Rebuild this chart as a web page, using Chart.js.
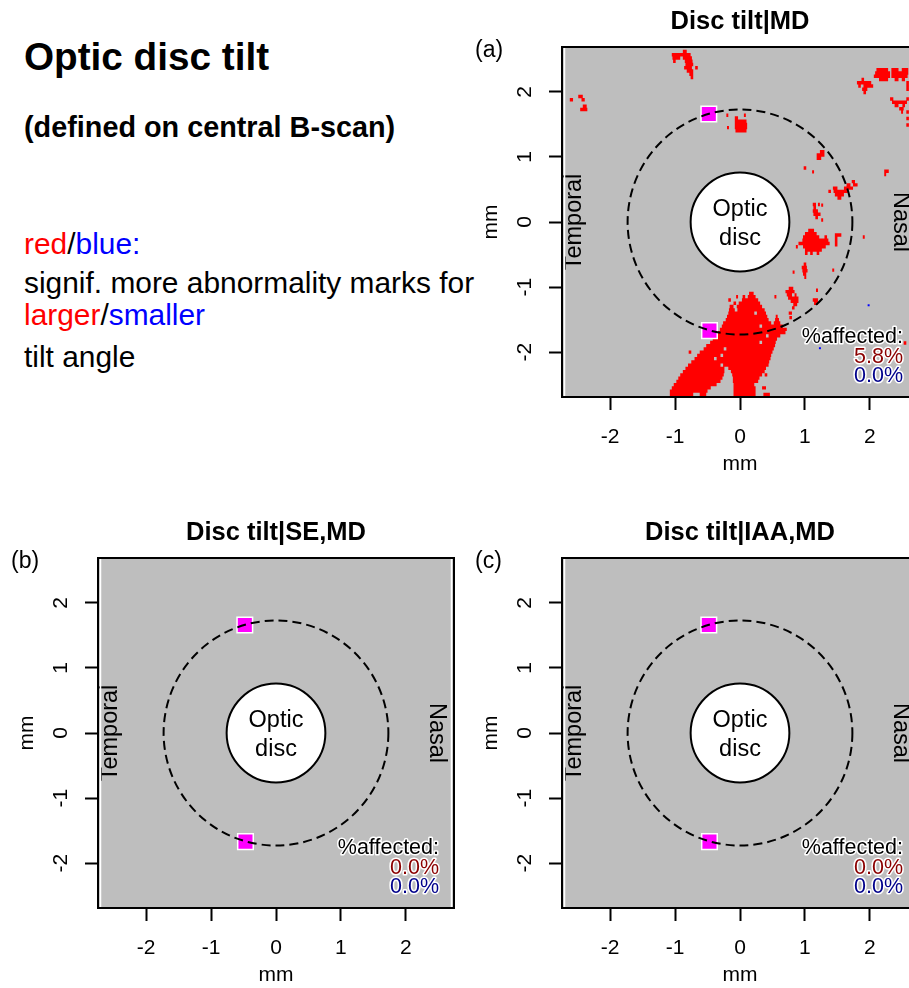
<!DOCTYPE html>
<html><head><meta charset="utf-8">
<script src="https://cdn.jsdelivr.net/npm/chart.js@4.4.1/dist/chart.umd.min.js"></script>
<style>
html,body{margin:0;padding:0;background:#fff;}
body{width:909px;height:988px;overflow:hidden;position:relative;font-family:'Liberation Sans',Arial,Helvetica,sans-serif;}
.t{position:absolute;left:24px;white-space:nowrap;line-height:1;color:#000;}
canvas{position:absolute;}
</style></head><body>
<div class="t" style="top:37.5px;font-size:38.7px;font-weight:bold;">Optic disc tilt</div>
<div class="t" style="top:112.5px;font-size:28.8px;font-weight:bold;">(defined on central B-scan)</div>
<div class="t" style="top:228.5px;font-size:29.9px;"><span style="color:#FF0000">red</span>/<span style="color:#0000FF">blue:</span></div>
<div class="t" style="top:267.5px;font-size:29.9px;">signif. more abnormality marks for</div>
<div class="t" style="top:299.5px;font-size:29.9px;"><span style="color:#FF0000">larger</span>/<span style="color:#0000FF">smaller</span></div>
<div class="t" style="top:341.5px;font-size:29.9px;">tilt angle</div>
<canvas id="ca" width="470" height="477" style="left:464px;top:0px"></canvas>
<canvas id="cb" width="470" height="478" style="left:0px;top:510px"></canvas>
<canvas id="cc" width="470" height="478" style="left:464px;top:510px"></canvas>
<script>
// ---- data ----
const xTicks = [-2, -1, 0, 1, 2];
const yTicks = [-2, -1, 0, 1, 2];
const xRange = [-2.74, 2.74];
const yRange = [-2.69, 2.69];
const panelLetters = ['(a)', '(b)', '(c)'];
const panelTitles = ['Disc tilt|MD', 'Disc tilt|SE,MD', 'Disc tilt|IAA,MD'];
const pctRed = ['5.8%', '0.0%', '0.0%'];
const pctBlue = ['0.0%', '0.0%', '0.0%'];
const squareX = [-0.48, -0.47];
const squareY = [1.66, -1.67];
const ringRadius = 1.73;
const discRadius = 0.76;
// red cells of panel (a): [row y (mm), x start, x end]
const redRowsA = [
 [2.62,-0.88,-0.82],[2.57,-1.05,-0.76],[2.52,-1.04,-0.92],[2.52,-0.88,-0.74],
 [2.47,-1.03,-0.99],[2.47,-0.85,-0.73],[2.42,-0.84,-0.72],[2.37,-0.86,-0.74],[2.37,-0.69,-0.65],
 [2.32,-0.82,-0.72],[2.27,-0.78,-0.72],[2.22,-0.76,-0.72],
 [1.93,-2.49,-2.42],[1.88,-2.62,-2.57],[1.88,-2.44,-2.39],[1.78,-2.42,-2.36],[1.73,-2.46,-2.35],
 [2.34,2.10,2.28],[2.34,2.33,2.44],[2.34,2.49,2.59],[2.29,2.08,2.31],[2.29,2.33,2.59],
 [2.24,2.06,2.31],[2.24,2.33,2.58],[2.19,1.87,1.91],[2.19,2.14,2.28],[2.19,2.38,2.44],[2.19,2.49,2.54],
 [2.14,1.80,2.02],[2.14,2.56,2.60],[2.09,1.82,1.86],[2.09,1.90,2.05],[2.09,2.56,2.60],
 [2.04,1.88,1.96],[2.04,2.56,2.60],[1.99,1.90,1.94],[1.89,2.31,2.36],[1.89,2.56,2.60],
 [1.84,2.34,2.57],[1.79,2.38,2.44],[1.79,2.50,2.54],[1.74,2.45,2.52],[1.69,2.48,2.51],
 [1.69,2.56,2.60],[1.59,2.56,2.60],[1.49,2.56,2.60],
 [1.64,-0.21,-0.18],[1.64,0.06,0.09],[1.60,-0.08,-0.03],[1.55,-0.08,0.10],[1.50,-0.08,0.11],
 [1.45,-0.20,-0.17],[1.45,-0.08,0.11],[1.40,-0.07,0.10],
 [1.08,1.23,1.30],[1.03,1.18,1.30],[0.98,1.18,1.25],
 [0.83,0.98,1.02],[0.77,1.11,1.14],[0.78,2.22,2.29],[0.73,2.22,2.25],
 [0.62,1.72,1.77],[0.57,1.64,1.70],[0.57,1.74,1.81],[0.52,1.43,1.50],[0.52,1.60,1.74],
 [0.47,1.36,1.40],[0.47,1.44,1.66],[0.42,1.46,1.60],[0.37,1.50,1.56],
 [0.27,1.12,1.17],[0.27,1.20,1.23],[0.26,1.25,1.28],[0.22,1.13,1.17],[0.17,1.12,1.20],
 [0.12,1.13,1.24],[0.07,1.16,1.20],[0.03,1.25,1.28],
 [-0.13,1.05,1.14],[-0.18,1.00,1.18],[-0.23,0.97,1.22],[-0.23,1.30,1.34],[-0.23,1.89,1.92],
 [-0.28,0.96,1.36],[-0.33,0.90,1.38],[-0.38,0.97,1.32],[-0.38,0.86,0.89],[-0.43,1.00,1.26],
 [-0.48,1.00,1.04],[-0.48,1.08,1.12],[-0.48,1.18,1.22],
 [-0.20,1.46,1.56],[-0.25,1.46,1.50],[-0.30,1.46,1.50],[-0.35,1.46,1.50],
 [-0.65,0.98,1.02],[-0.70,0.95,1.03],[-0.74,1.42,1.45],[-0.75,0.96,1.04],[-0.77,0.81,0.84],
 [-0.80,0.97,1.02],[-0.85,0.99,1.02],
 [-1.02,0.75,0.82],[-1.05,1.17,1.20],[-1.07,0.70,0.84],[-1.12,0.72,0.80],[-1.12,0.84,0.87],
 [-1.17,0.74,0.90],[-1.20,1.12,1.20],[-1.22,0.78,0.90],[-1.25,1.14,1.20],[-1.27,0.82,0.88],
 [-1.32,0.80,0.84],[-1.40,0.75,0.80],[-1.47,0.76,0.80],[-1.86,2.52,2.56],
 [-1.10,0.14,0.21],
 [-1.15,-0.06,-0.03],[-1.15,0.04,0.08],[-1.15,0.12,0.24],[-1.15,0.53,0.56],
 [-1.20,-0.18,-0.14],[-1.20,0.03,0.28],
 [-1.25,-0.10,-0.06],[-1.25,-0.02,0.31],
 [-1.30,-0.16,-0.10],[-1.30,-0.05,0.34],
 [-1.35,-0.17,-0.08],[-1.35,-0.04,0.38],
 [-1.40,-0.18,0.22],[-1.40,0.26,0.40],
 [-1.45,-0.20,0.42],[-1.45,0.55,0.58],
 [-1.50,-0.22,0.44],[-1.50,0.54,0.60],
 [-1.55,-0.26,0.48],[-1.55,0.52,0.62],
 [-1.60,-0.28,0.30],[-1.60,0.34,0.66],
 [-1.65,-0.31,0.72],
 [-1.70,-0.34,0.70],
 [-1.75,-0.38,0.40],[-1.75,0.44,0.62],
 [-1.80,-0.42,0.57],
 [-1.85,-0.46,0.30],[-1.85,0.34,0.55],
 [-1.90,-0.52,0.54],
 [-1.95,-0.56,-0.25],[-1.95,-0.21,0.52],
 [-2.00,-0.79,-0.75],[-2.00,-0.62,0.50],
 [-2.05,-0.66,-0.30],[-2.05,-0.26,0.48],
 [-2.10,-0.70,-0.40],[-2.10,-0.36,0.47],
 [-2.15,-0.75,0.45],
 [-2.20,-0.80,-0.30],[-2.20,-0.26,0.44],
 [-2.25,-0.84,-0.24],[-2.25,-0.18,0.40],
 [-2.30,-0.88,-0.24],[-2.30,-0.14,0.38],
 [-2.35,-0.92,-0.25],[-2.35,-0.12,0.34],[-2.35,0.38,0.42],
 [-2.40,-0.95,-0.27],[-2.40,-0.11,0.30],
 [-2.45,-0.98,-0.30],[-2.45,-0.11,0.28],
 [-2.50,-1.02,-0.36],[-2.50,-0.10,0.22],
 [-2.55,-1.05,-0.45],[-2.55,-0.10,0.24],[-2.55,0.34,0.40],
 [-2.60,-1.08,-0.50],[-2.60,-0.10,0.24],
 [-2.65,-1.08,-0.72],[-2.65,-0.62,-0.52],[-2.65,-0.10,0.24],[-2.65,0.36,0.46]
];
const redRowsB = [];
const redRowsC = [];
// blue cells: [x, y]
const blueSpotsA = [[1.98,-1.28],[1.23,-1.94]];
const blueSpotsB = [];
const blueSpotsC = [];

// ---- drawing ----
const FF = "'Liberation Sans', Arial, Helvetica, sans-serif";
Chart.defaults.font.family = FF;
Chart.defaults.color = '#000';

function rowsToLine(rows){
  const d = [];
  rows.forEach(([yy, x0, x1]) => { d.push({x:x0, y:yy}, {x:x1, y:yy}, {x:x1, y:null}); });
  return d;
}

function decoPlugin(i){
  return {
    id: 'deco' + i,
    beforeDatasetsDraw(chart){
      const {ctx, chartArea:a} = chart;
      ctx.save(); ctx.fillStyle = '#BEBEBE';
      ctx.fillRect(a.left, a.top, a.right - a.left, a.bottom - a.top);
      ctx.restore();
    },
    afterDatasetsDraw(chart){
      const {ctx, chartArea:a, scales:{x, y}} = chart;
      const cx = x.getPixelForValue(0), cy = y.getPixelForValue(0);
      ctx.save();
      ctx.beginPath(); ctx.rect(a.left, a.top, a.right - a.left, a.bottom - a.top); ctx.clip();
      // dashed ring
      ctx.beginPath();
      ctx.ellipse(cx, cy, x.getPixelForValue(ringRadius) - cx, cy - y.getPixelForValue(ringRadius), 0, 0, Math.PI * 2);
      ctx.setLineDash([9, 5]); ctx.lineWidth = 2; ctx.strokeStyle = '#000'; ctx.stroke();
      ctx.setLineDash([]);
      // optic disc
      ctx.beginPath();
      ctx.ellipse(cx, cy, x.getPixelForValue(discRadius) - cx, cy - y.getPixelForValue(discRadius), 0, 0, Math.PI * 2);
      ctx.fillStyle = '#fff'; ctx.fill(); ctx.lineWidth = 2; ctx.stroke();
      ctx.fillStyle = '#000'; ctx.font = '23.5px ' + FF; ctx.textAlign = 'center'; ctx.textBaseline = 'alphabetic';
      ctx.fillText('Optic', cx, cy - 6);
      ctx.fillText('disc', cx, cy + 23);
      // side labels
      ctx.textBaseline = 'middle';
      ctx.save(); ctx.translate(a.left + 13, cy); ctx.rotate(-Math.PI / 2); ctx.fillText('Temporal', 0, 0); ctx.restore();
      ctx.save(); ctx.translate(a.right - 18, cy); ctx.rotate(Math.PI / 2); ctx.fillText('Nasal', 0, 0); ctx.restore();
      // %affected
      ctx.font = '21.5px ' + FF; ctx.textAlign = 'right'; ctx.textBaseline = 'middle';
      ctx.lineJoin = 'round'; ctx.lineWidth = 3; ctx.strokeStyle = '#fff';
      const lines = [['%affected:', '#000', 60], [pctRed[i], '#8B0000', 40], [pctBlue[i], '#00008B', 21]];
      lines.forEach(([t, c, off]) => {
        ctx.strokeText(t, a.right - 15, a.bottom - off);
        ctx.fillStyle = c; ctx.fillText(t, a.right - 15, a.bottom - off);
      });
      ctx.restore();
      // frame
      ctx.save();
      ctx.strokeStyle = '#fff'; ctx.lineWidth = 1.5;
      ctx.beginPath();
      ctx.moveTo(a.left + 2.5, a.top + 1); ctx.lineTo(a.left + 2.5, a.bottom - 1);
      ctx.moveTo(a.right - 2.5, a.top + 1); ctx.lineTo(a.right - 2.5, a.bottom - 1);
      ctx.stroke();
      ctx.strokeStyle = '#000'; ctx.lineWidth = 2;
      ctx.strokeRect(a.left, a.top, a.right - a.left, a.bottom - a.top);
      ctx.restore();
    },
    afterDraw(chart){
      const {ctx, chartArea:a} = chart;
      ctx.save();
      ctx.fillStyle = '#000';
      ctx.font = 'bold 25.5px ' + FF; ctx.textAlign = 'center'; ctx.textBaseline = 'alphabetic';
      ctx.fillText(panelTitles[i], (a.left + a.right) / 2, a.top - 18.5);
      ctx.font = '23px ' + FF; ctx.textAlign = 'left';
      ctx.fillText(panelLetters[i], a.left - 87, a.top + 10);
      ctx.restore();
    }
  };
}

function axisOpts(ticks, range, isX){
  return {
    type: 'linear', min: range[0], max: range[1],
    afterBuildTicks: s => { s.ticks = ticks.map(v => ({value: v})); },
    afterFit: s => { if (isX) s.height = 80; else s.width = 98; },
    ticks: {
      font: {size: 21}, color: '#000', padding: 14.5, autoSkip: false,
      minRotation: isX ? 0 : 90, maxRotation: isX ? 0 : 90,
      crossAlign: isX ? 'near' : 'center',
      callback: v => String(v)
    },
    grid: {display: true, drawOnChartArea: false, drawTicks: true, tickLength: 13, tickColor: '#000', tickWidth: 2, color: '#000'},
    border: {display: false},
    title: {display: true, text: 'mm', font: {size: 21}, color: '#000',
            padding: isX ? {top: 0, bottom: 0} : {top: 15, bottom: 0}}
  };
}

function makePanel(id, i, redRows, blueSpots, topPad){
  new Chart(document.getElementById(id), {
    type: 'scatter',
    data: {
      datasets: [
        {label: 'larger', data: rowsToLine(redRows), showLine: true, spanGaps: false,
         borderColor: '#FF0000', borderWidth: 3.4, borderCapStyle: 'butt', pointRadius: 0, order: 3},
        {label: 'smaller', data: blueSpots.map(([px, py]) => ({x: px, y: py})), showLine: false,
         pointStyle: 'rect', pointRadius: 1.4, pointBackgroundColor: '#0000FF', pointBorderWidth: 0, order: 2},
        {label: 'scan', data: squareX.map((v, k) => ({x: v, y: squareY[k]})), showLine: false,
         pointStyle: 'rect', pointRadius: 11, pointBackgroundColor: '#FF00FF', pointBorderColor: '#FFFFFF',
         pointBorderWidth: 1.5, order: 1}
      ]
    },
    options: {
      responsive: false, animation: false, devicePixelRatio: 1, events: [],
      layout: {padding: {left: 0, top: topPad, right: 16, bottom: 0}},
      plugins: {legend: {display: false}, tooltip: {enabled: false}, title: {display: false}},
      scales: {x: axisOpts(xTicks, xRange, true), y: axisOpts(yTicks, yRange, false)}
    },
    plugins: [decoPlugin(i)]
  });
}

makePanel('ca', 0, redRowsA, blueSpotsA, 47);
makePanel('cb', 1, redRowsB, blueSpotsB, 48);
makePanel('cc', 2, redRowsC, blueSpotsC, 48);
</script>
</body></html>
